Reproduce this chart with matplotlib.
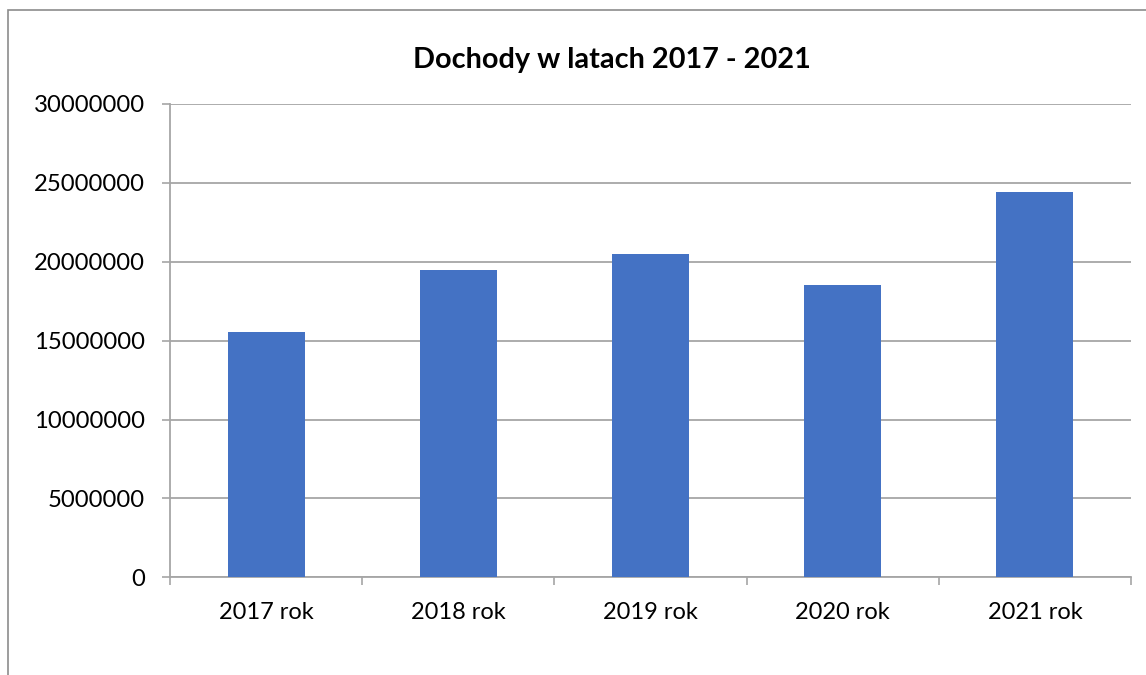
import matplotlib.pyplot as plt
from matplotlib.patches import Rectangle

# dane z wykresu
lata = ["2017 rok", "2018 rok", "2019 rok", "2020 rok", "2021 rok"]
dochody = [15550000, 19470000, 20490000, 18520000, 24400000]
y_ticks = [0, 5000000, 10000000, 15000000, 20000000, 25000000, 30000000]

plt.rcParams["font.family"] = ["Lato", "DejaVu Sans"]

W, H = 1146, 675
fig = plt.figure(figsize=(W / 100, H / 100), dpi=100)
ax = fig.add_axes([170 / W, 1 - 577.3 / H, (1131 - 170) / W, (577.3 - 104) / H])

grid_col = "#a6a6a6"
x = range(len(lata))
ax.bar(x, dochody, width=0.4, color="#4472c4", zorder=3)

ax.set_xlim(-0.5, len(lata) - 0.5)
ax.set_ylim(0, 30000000)
ax.set_yticks(y_ticks)
ax.set_yticklabels([str(v) for v in y_ticks], fontsize=17.2)
ax.set_xticks(list(x))
ax.set_xticklabels(lata, fontsize=17)
ax.tick_params(axis="x", length=0, pad=18)
ax.set_xticks([i - 0.5 for i in range(len(lata) + 1)], minor=True)
ax.tick_params(axis="x", which="minor", length=6, color=grid_col, width=1.2)
ax.tick_params(axis="y", length=6, pad=12, color=grid_col, width=1.2)

ax.yaxis.grid(True, color=grid_col, linewidth=1.3, zorder=0)
for s in ["top", "right"]:
    ax.spines[s].set_visible(False)
for s in ["left", "bottom"]:
    ax.spines[s].set_color(grid_col)
    ax.spines[s].set_linewidth(1.3)

fig.text(612 / W, 1 - 60 / H, "Dochody w latach 2017 - 2021", ha="center", va="center",
         fontsize=20.8, fontweight="bold")

# ramka wykresu
fig.patches.append(Rectangle((8 / W, -0.1), 1.2, 1 - 10 / H + 0.1, transform=fig.transFigure,
                             fill=False, edgecolor="#8c8c8c", linewidth=1.2))

fig.savefig("out.png", dpi=100)
